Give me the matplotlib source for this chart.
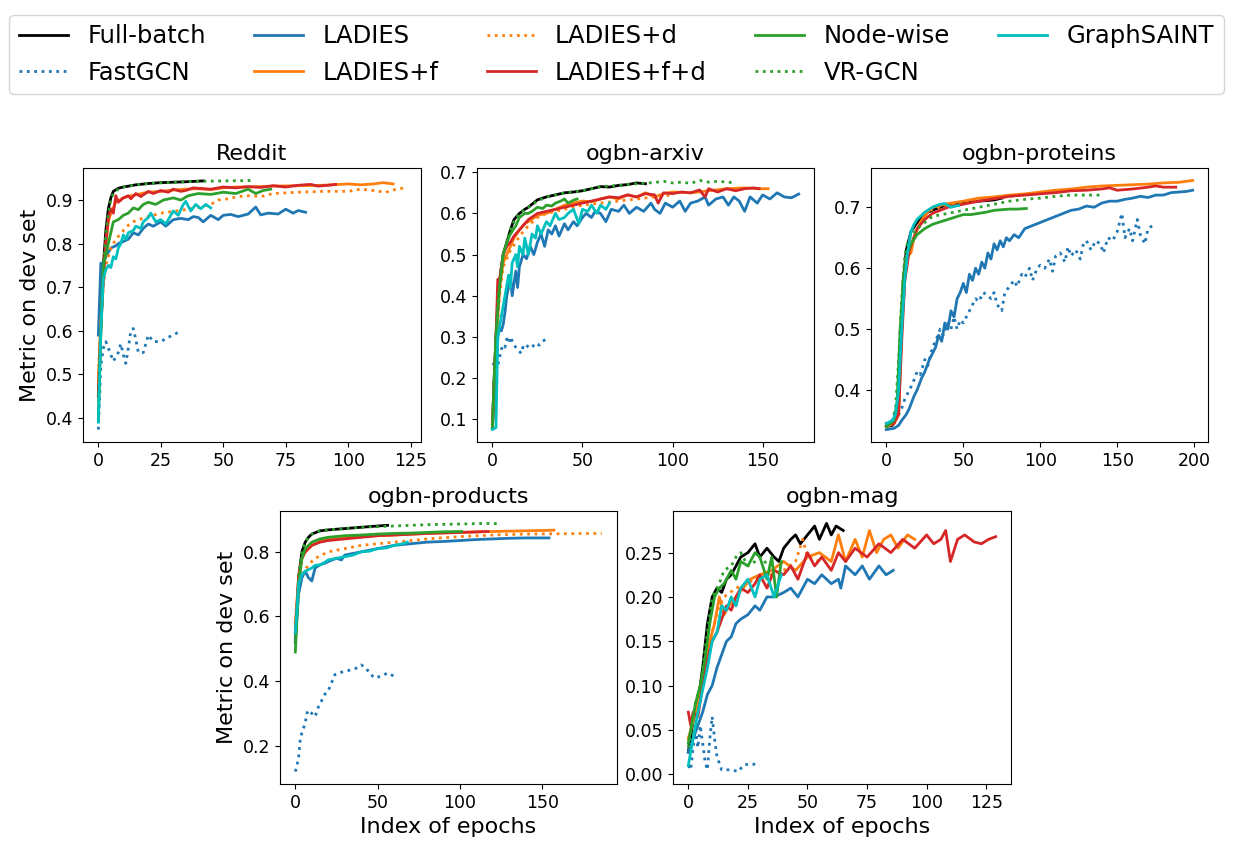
import matplotlib.pyplot as plt

# method names, colours and line styles (legend order)
methods = ['Full-batch', 'FastGCN', 'LADIES', 'LADIES+f', 'LADIES+d',
           'LADIES+f+d', 'Node-wise', 'VR-GCN', 'GraphSAINT']
colors = ['black', 'C0', 'C0', 'C1', 'C1', 'C3', 'C2', 'C2', 'c']
styles = ['-', ':', '-', '-', ':', '-', '-', ':', '-']

# ---------------- Reddit: (epoch, metric) ----------------
reddit_full = [(0, 0.45), (1, 0.62), (2, 0.75), (3, 0.83), (4, 0.88), (5, 0.905), (6, 0.92),
               (8, 0.927), (10, 0.93), (15, 0.935), (20, 0.938), (25, 0.94), (30, 0.941),
               (35, 0.942), (42, 0.944)]
reddit_fastgcn = [(0, 0.373), (1, 0.52), (2, 0.56), (3, 0.575), (4, 0.56), (5, 0.545), (6, 0.53),
                  (7, 0.54), (8, 0.55), (9, 0.57), (10, 0.545), (11, 0.525), (12, 0.56), (13, 0.6),
                  (14, 0.605), (15, 0.58), (16, 0.55), (18, 0.55), (20, 0.59), (22, 0.575),
                  (25, 0.575), (28, 0.585), (30, 0.59), (33, 0.6)]
reddit_ladies = [(0, 0.59), (1, 0.755), (2, 0.755), (3, 0.77), (5, 0.79), (7, 0.795), (8, 0.8),
                 (10, 0.805), (12, 0.81), (14, 0.825), (16, 0.82), (18, 0.835), (20, 0.845),
                 (22, 0.84), (25, 0.85), (27, 0.84), (30, 0.855), (33, 0.858), (36, 0.855),
                 (38, 0.862), (40, 0.86), (42, 0.85), (45, 0.865), (48, 0.855), (50, 0.865),
                 (53, 0.867), (56, 0.862), (60, 0.868), (63, 0.884), (65, 0.866), (68, 0.87),
                 (72, 0.868), (75, 0.879), (78, 0.87), (80, 0.876), (83, 0.872)]
reddit_ladies_f = [(0, 0.48), (1, 0.62), (2, 0.72), (3, 0.8), (4, 0.85), (5, 0.87), (7, 0.895),
                   (10, 0.905), (13, 0.91), (15, 0.912), (18, 0.916), (20, 0.918), (25, 0.92),
                   (30, 0.923), (35, 0.925), (40, 0.926), (45, 0.924), (50, 0.928), (55, 0.93),
                   (60, 0.93), (70, 0.932), (80, 0.933), (90, 0.934), (100, 0.937),
                   (105, 0.935), (110, 0.937), (114, 0.94), (118, 0.937)]
reddit_ladies_d = [(0, 0.5), (1, 0.62), (2, 0.7), (3, 0.75), (5, 0.79), (7, 0.81), (10, 0.83),
                   (13, 0.848), (16, 0.855), (20, 0.862), (25, 0.87), (30, 0.874), (35, 0.878),
                   (40, 0.883), (45, 0.89), (48, 0.9), (52, 0.903), (56, 0.908), (60, 0.91),
                   (65, 0.908), (70, 0.915), (80, 0.918), (90, 0.92), (100, 0.92), (105, 0.925),
                   (110, 0.922), (115, 0.918), (120, 0.926), (123, 0.928)]
reddit_ladies_fd = [(0, 0.45), (1, 0.6), (2, 0.72), (3, 0.8), (4, 0.86), (5, 0.88), (6, 0.87),
                    (7, 0.91), (8, 0.895), (10, 0.905), (12, 0.91), (13, 0.903), (15, 0.915),
                    (17, 0.908), (18, 0.912), (20, 0.92), (22, 0.915), (25, 0.922),
                    (28, 0.918), (30, 0.925), (33, 0.92), (35, 0.922), (38, 0.928),
                    (40, 0.927), (45, 0.925), (50, 0.93), (55, 0.928), (60, 0.931),
                    (65, 0.929), (70, 0.933), (75, 0.93), (80, 0.934), (85, 0.936),
                    (88, 0.932), (92, 0.934), (95, 0.936)]
reddit_nodewise = [(0, 0.395), (1, 0.6), (2, 0.75), (4, 0.8), (6, 0.85), (8, 0.855), (10, 0.865),
                   (12, 0.87), (14, 0.882), (16, 0.878), (18, 0.89), (20, 0.895), (23, 0.89),
                   (26, 0.9), (30, 0.905), (33, 0.9), (36, 0.91), (40, 0.915), (45, 0.913),
                   (50, 0.918), (55, 0.915), (60, 0.925), (63, 0.915), (66, 0.922), (69, 0.925)]
reddit_vrgcn = [(0, 0.42), (1, 0.6), (2, 0.74), (3, 0.82), (4, 0.87), (5, 0.9), (6, 0.915),
                (8, 0.925), (10, 0.93), (15, 0.935), (20, 0.938), (30, 0.941), (40, 0.943),
                (50, 0.944), (62, 0.945)]
reddit_saint = [(0, 0.39), (1, 0.6), (2, 0.72), (3, 0.74), (4, 0.75), (5, 0.745), (6, 0.77),
                (7, 0.765), (8, 0.79), (9, 0.8), (10, 0.82), (11, 0.81), (12, 0.825), (14, 0.83),
                (15, 0.84), (17, 0.835), (18, 0.85), (20, 0.86), (21, 0.87), (23, 0.85),
                (25, 0.855), (27, 0.845), (30, 0.875), (32, 0.865), (34, 0.89), (35, 0.897),
                (37, 0.875), (39, 0.89), (41, 0.88), (43, 0.89), (45, 0.882)]

# ---------------- ogbn-arxiv ----------------
arxiv_full = [(0, 0.08), (1, 0.2), (2, 0.3), (3, 0.38), (4, 0.43), (5, 0.47), (6, 0.5),
              (8, 0.53), (10, 0.56), (12, 0.585), (15, 0.6), (18, 0.61), (20, 0.615),
              (25, 0.633), (30, 0.64), (35, 0.645), (40, 0.65), (45, 0.652), (50, 0.655),
              (55, 0.66), (60, 0.665), (65, 0.664), (70, 0.668), (75, 0.67), (80, 0.674),
              (85, 0.672)]
arxiv_fastgcn = [(0, 0.232), (1, 0.235), (2, 0.245), (3, 0.23), (4, 0.25), (5, 0.27), (6, 0.28),
                 (7, 0.275), (8, 0.295), (9, 0.285), (10, 0.3), (11, 0.29), (12, 0.28),
                 (14, 0.27), (16, 0.26), (17, 0.275), (18, 0.27), (20, 0.28), (22, 0.275),
                 (24, 0.285), (26, 0.28), (28, 0.29), (30, 0.295)]
arxiv_ladies = [(0, 0.08), (2, 0.2), (3, 0.3), (4, 0.32), (5, 0.315), (6, 0.33), (7, 0.36),
                (8, 0.4), (9, 0.42), (10, 0.45), (11, 0.4), (12, 0.43), (13, 0.46), (14, 0.42),
                (15, 0.47), (17, 0.5), (19, 0.49), (21, 0.52), (23, 0.5), (25, 0.53), (27, 0.55),
                (29, 0.52), (31, 0.56), (33, 0.55), (35, 0.57), (37, 0.545), (40, 0.575),
                (42, 0.56), (45, 0.58), (47, 0.57), (50, 0.59), (52, 0.6), (55, 0.59), (57, 0.605),
                (60, 0.6), (63, 0.58), (66, 0.61), (70, 0.605), (73, 0.62), (76, 0.6), (80, 0.615),
                (84, 0.605), (88, 0.625), (90, 0.61), (93, 0.6), (96, 0.625), (100, 0.615),
                (104, 0.63), (107, 0.605), (110, 0.625), (114, 0.63), (118, 0.64), (120, 0.62),
                (124, 0.635), (128, 0.64), (131, 0.62), (134, 0.64), (137, 0.63), (140, 0.605),
                (143, 0.64), (147, 0.625), (150, 0.645), (154, 0.635), (158, 0.65),
                (162, 0.64), (166, 0.638), (170, 0.647)]
arxiv_ladies_f = [(0, 0.08), (2, 0.28), (4, 0.42), (6, 0.48), (8, 0.5), (10, 0.52), (12, 0.54),
                  (15, 0.56), (18, 0.575), (20, 0.58), (25, 0.595), (30, 0.6), (35, 0.61),
                  (40, 0.62), (45, 0.625), (50, 0.63), (55, 0.628), (60, 0.635), (65, 0.64),
                  (70, 0.635), (75, 0.645), (80, 0.64), (85, 0.65), (90, 0.64), (95, 0.648),
                  (100, 0.652), (110, 0.65), (120, 0.655), (130, 0.66), (140, 0.662),
                  (148, 0.66), (153, 0.66)]
arxiv_ladies_d = [(0, 0.08), (2, 0.27), (4, 0.4), (6, 0.47), (8, 0.49), (10, 0.51), (13, 0.53),
                  (16, 0.55), (20, 0.57), (25, 0.59), (30, 0.6), (35, 0.605), (40, 0.61),
                  (50, 0.62), (60, 0.625), (70, 0.63), (80, 0.635), (90, 0.64), (100, 0.645)]
arxiv_ladies_fd = [(0, 0.08), (2, 0.3), (3, 0.44), (4, 0.44), (6, 0.5), (8, 0.52), (10, 0.53),
                   (12, 0.545), (15, 0.56), (17, 0.57), (20, 0.585), (25, 0.6), (30, 0.605),
                   (35, 0.61), (40, 0.615), (45, 0.62), (50, 0.625), (55, 0.63), (60, 0.635),
                   (65, 0.64), (70, 0.638), (75, 0.645), (80, 0.64), (85, 0.648), (90, 0.645),
                   (92, 0.625), (95, 0.65), (100, 0.648), (105, 0.652), (110, 0.65),
                   (115, 0.657), (118, 0.64), (120, 0.66), (125, 0.652), (130, 0.66),
                   (135, 0.655), (140, 0.66), (145, 0.662), (148, 0.66)]
arxiv_nodewise = [(0, 0.08), (2, 0.3), (4, 0.42), (6, 0.5), (8, 0.53), (10, 0.55), (13, 0.57),
                  (15, 0.59), (18, 0.6), (20, 0.6), (22, 0.605), (25, 0.615), (28, 0.612),
                  (30, 0.62), (33, 0.618), (35, 0.625), (38, 0.63), (40, 0.635), (42, 0.625),
                  (45, 0.632), (47, 0.635)]
arxiv_vrgcn = [(0, 0.08), (1, 0.2), (2, 0.3), (3, 0.38), (4, 0.43), (6, 0.5), (8, 0.53),
               (10, 0.56), (12, 0.58), (15, 0.6), (20, 0.615), (25, 0.63), (30, 0.64),
               (40, 0.65), (50, 0.655), (60, 0.665), (70, 0.668), (80, 0.672), (90, 0.675),
               (95, 0.678), (100, 0.674), (105, 0.676), (110, 0.673), (115, 0.68),
               (120, 0.676), (125, 0.678), (133, 0.675)]
arxiv_saint = [(0, 0.075), (2, 0.08), (3, 0.3), (5, 0.35), (7, 0.4), (9, 0.45), (10, 0.42),
               (11, 0.48), (13, 0.5), (14, 0.47), (15, 0.52), (17, 0.5), (18, 0.54), (20, 0.5),
               (22, 0.55), (24, 0.54), (25, 0.57), (27, 0.55), (30, 0.58), (32, 0.57), (35, 0.6),
               (37, 0.585), (40, 0.59), (42, 0.6), (45, 0.61), (48, 0.575), (50, 0.61),
               (53, 0.605), (55, 0.62), (58, 0.6), (60, 0.62), (63, 0.61), (65, 0.625)]

# ---------------- ogbn-proteins ----------------
proteins_full = [(0, 0.34), (4, 0.342), (7, 0.36), (9, 0.45), (11, 0.58), (13, 0.63),
                 (16, 0.66), (20, 0.675), (25, 0.69), (30, 0.695), (40, 0.705), (50, 0.708),
                 (60, 0.71), (70, 0.712), (75, 0.715)]
proteins_fastgcn = [(0, 0.34), (3, 0.345), (5, 0.36), (7, 0.355), (10, 0.37), (12, 0.385),
                    (15, 0.4), (17, 0.41), (20, 0.43), (22, 0.425), (25, 0.45), (27, 0.44),
                    (30, 0.47), (32, 0.48), (35, 0.5), (37, 0.49), (40, 0.51), (42, 0.5),
                    (44, 0.52), (46, 0.5), (48, 0.515), (50, 0.51), (53, 0.525), (56, 0.54),
                    (58, 0.55), (60, 0.545), (63, 0.56), (66, 0.555), (68, 0.55), (70, 0.56),
                    (72, 0.54), (75, 0.53), (77, 0.56), (80, 0.57), (83, 0.58), (85, 0.57),
                    (88, 0.59), (90, 0.585), (93, 0.6), (95, 0.58), (98, 0.6), (100, 0.605),
                    (103, 0.6), (106, 0.615), (108, 0.595), (110, 0.62), (113, 0.625),
                    (116, 0.61), (118, 0.635), (120, 0.62), (123, 0.63), (126, 0.615),
                    (128, 0.64), (130, 0.645), (133, 0.63), (136, 0.645), (139, 0.64),
                    (141, 0.625), (144, 0.65), (147, 0.645), (150, 0.66), (153, 0.69),
                    (155, 0.65), (158, 0.665), (160, 0.645), (163, 0.68), (165, 0.655),
                    (168, 0.64), (170, 0.665), (173, 0.67)]
proteins_ladies = [(0, 0.335), (5, 0.337), (8, 0.342), (10, 0.35), (13, 0.36), (15, 0.37),
                   (18, 0.39), (20, 0.4), (23, 0.42), (25, 0.43), (28, 0.45), (30, 0.46),
                   (32, 0.47), (34, 0.49), (36, 0.48), (38, 0.51), (40, 0.5), (42, 0.53),
                   (44, 0.52), (46, 0.55), (48, 0.56), (50, 0.575), (52, 0.56), (54, 0.59),
                   (56, 0.58), (58, 0.6), (60, 0.59), (62, 0.61), (64, 0.6), (66, 0.625),
                   (68, 0.615), (70, 0.64), (72, 0.63), (74, 0.645), (76, 0.635), (78, 0.65),
                   (80, 0.645), (83, 0.655), (86, 0.65), (90, 0.665), (95, 0.67), (100, 0.675),
                   (105, 0.68), (110, 0.685), (115, 0.69), (120, 0.695), (125, 0.697),
                   (130, 0.702), (135, 0.7), (140, 0.707), (145, 0.71), (150, 0.71),
                   (155, 0.713), (160, 0.715), (165, 0.718), (170, 0.716), (175, 0.72),
                   (180, 0.72), (185, 0.724), (190, 0.725), (195, 0.726), (199, 0.728)]
proteins_ladies_f = [(0, 0.34), (5, 0.345), (8, 0.36), (10, 0.5), (12, 0.58), (14, 0.62),
                     (16, 0.625), (18, 0.65), (22, 0.675), (26, 0.69), (30, 0.7), (40, 0.706),
                     (50, 0.71), (60, 0.715), (70, 0.717), (80, 0.72), (90, 0.722), (100, 0.725),
                     (110, 0.728), (120, 0.73), (130, 0.733), (140, 0.735), (150, 0.736),
                     (160, 0.737), (170, 0.738), (180, 0.74), (190, 0.741), (199, 0.744)]
proteins_ladies_d = [(0, 0.34), (5, 0.345), (8, 0.37), (10, 0.5), (12, 0.58), (14, 0.62),
                     (18, 0.65), (22, 0.672), (26, 0.688), (30, 0.697), (40, 0.704),
                     (50, 0.708), (60, 0.712), (70, 0.715), (80, 0.718), (90, 0.72)]
proteins_ladies_fd = [(0, 0.345), (5, 0.345), (8, 0.36), (10, 0.48), (12, 0.58), (15, 0.63),
                      (20, 0.665), (25, 0.68), (30, 0.69), (40, 0.7), (50, 0.705), (60, 0.71),
                      (70, 0.714), (80, 0.718), (90, 0.72), (100, 0.722), (110, 0.724),
                      (120, 0.727), (130, 0.728), (140, 0.73), (145, 0.732), (150, 0.728),
                      (160, 0.73), (170, 0.733), (175, 0.735), (180, 0.733), (188, 0.733)]
proteins_nodewise = [(0, 0.34), (5, 0.35), (7, 0.38), (9, 0.5), (11, 0.58), (13, 0.62),
                     (16, 0.64), (20, 0.655), (25, 0.665), (30, 0.672), (35, 0.676),
                     (40, 0.68), (45, 0.684), (50, 0.688), (55, 0.688), (60, 0.69), (65, 0.692),
                     (70, 0.695), (75, 0.696), (80, 0.697), (85, 0.697), (91, 0.698)]
proteins_vrgcn = [(0, 0.34), (4, 0.35), (6, 0.37), (8, 0.45), (10, 0.55), (12, 0.62),
                  (14, 0.645), (17, 0.655), (20, 0.665), (25, 0.675), (30, 0.685), (40, 0.69),
                  (50, 0.695), (60, 0.7), (70, 0.705), (80, 0.71), (90, 0.713), (100, 0.715),
                  (110, 0.718), (120, 0.72), (130, 0.72), (140, 0.72)]
proteins_saint = [(0, 0.345), (4, 0.35), (6, 0.36), (8, 0.4), (10, 0.5), (12, 0.58), (14, 0.63),
                  (16, 0.66), (18, 0.672), (20, 0.68), (25, 0.692), (30, 0.7), (35, 0.705),
                  (38, 0.706), (42, 0.7), (45, 0.702), (47, 0.703)]

# ---------------- ogbn-products ----------------
products_full = [(0, 0.52), (2, 0.72), (4, 0.8), (6, 0.83), (8, 0.845), (10, 0.855),
                 (15, 0.865), (20, 0.868), (30, 0.872), (40, 0.876), (50, 0.88), (56, 0.882)]
products_fastgcn = [(0, 0.12), (1, 0.14), (2, 0.165), (3, 0.22), (4, 0.24), (5, 0.255),
                    (6, 0.27), (7, 0.3), (8, 0.31), (10, 0.3), (12, 0.29), (14, 0.32),
                    (16, 0.34), (18, 0.36), (20, 0.37), (22, 0.395), (24, 0.42), (26, 0.425),
                    (30, 0.43), (34, 0.435), (37, 0.44), (40, 0.45), (43, 0.44), (45, 0.425),
                    (48, 0.41), (52, 0.415), (56, 0.425), (60, 0.415)]
products_ladies = [(0, 0.53), (2, 0.67), (4, 0.72), (6, 0.74), (8, 0.72), (10, 0.71),
                   (12, 0.75), (15, 0.76), (18, 0.765), (20, 0.77), (25, 0.78), (28, 0.775),
                   (30, 0.79), (35, 0.795), (40, 0.8), (45, 0.805), (50, 0.81), (55, 0.815),
                   (60, 0.82), (70, 0.825), (80, 0.83), (90, 0.832), (100, 0.835),
                   (110, 0.838), (120, 0.84), (130, 0.842), (140, 0.843), (154, 0.843)]
products_ladies_f = [(0, 0.58), (2, 0.72), (4, 0.78), (6, 0.8), (10, 0.82), (15, 0.832),
                     (20, 0.838), (30, 0.843), (40, 0.847), (50, 0.85), (60, 0.852),
                     (80, 0.857), (100, 0.86), (120, 0.863), (140, 0.865), (157, 0.867)]
products_ladies_d = [(0, 0.55), (2, 0.7), (4, 0.73), (8, 0.76), (12, 0.78), (16, 0.79),
                     (20, 0.8), (30, 0.81), (40, 0.82), (50, 0.825), (60, 0.83), (80, 0.84),
                     (100, 0.847), (120, 0.852), (140, 0.855), (160, 0.856), (186, 0.857)]
products_ladies_fd = [(0, 0.55), (2, 0.72), (4, 0.78), (6, 0.8), (10, 0.82), (15, 0.83),
                      (20, 0.835), (30, 0.84), (40, 0.845), (50, 0.85), (60, 0.852),
                      (80, 0.857), (100, 0.86), (117, 0.863)]
products_nodewise = [(0, 0.49), (2, 0.7), (4, 0.78), (6, 0.81), (8, 0.82), (10, 0.83),
                     (15, 0.84), (20, 0.845), (30, 0.85), (40, 0.852), (50, 0.855),
                     (60, 0.857), (70, 0.858), (80, 0.86), (90, 0.862), (101, 0.863)]
products_vrgcn = [(0, 0.52), (2, 0.72), (4, 0.8), (6, 0.83), (8, 0.845), (10, 0.855),
                  (15, 0.865), (20, 0.868), (30, 0.872), (40, 0.876), (50, 0.878),
                  (60, 0.88), (80, 0.884), (100, 0.886), (115, 0.888), (125, 0.887)]
products_saint = [(0, 0.55), (2, 0.7), (4, 0.73), (6, 0.74), (8, 0.745), (10, 0.75),
                  (12, 0.758), (15, 0.76), (18, 0.768), (20, 0.775), (25, 0.78), (30, 0.785),
                  (35, 0.79), (40, 0.8), (45, 0.802), (50, 0.81), (55, 0.812), (60, 0.82),
                  (65, 0.825), (68, 0.83)]

# ---------------- ogbn-mag ----------------
mag_full = [(0, 0.025), (2, 0.06), (4, 0.08), (6, 0.12), (8, 0.17), (10, 0.2), (12, 0.21),
            (14, 0.205), (16, 0.22), (18, 0.225), (20, 0.235), (22, 0.245), (25, 0.25),
            (28, 0.26), (30, 0.245), (33, 0.255), (36, 0.245), (38, 0.24), (40, 0.255),
            (43, 0.265), (45, 0.27), (47, 0.26), (50, 0.27), (53, 0.28), (55, 0.265),
            (58, 0.283), (60, 0.27), (62, 0.28), (65, 0.275)]
mag_fastgcn = [(0, 0.01), (1, 0.005), (2, 0.03), (3, 0.05), (4, 0.03), (5, 0.055), (6, 0.035),
               (7, 0.015), (8, 0.005), (9, 0.04), (10, 0.065), (11, 0.04), (12, 0.02),
               (14, 0.005), (18, 0.005), (21, 0.003), (23, 0.01), (26, 0.012), (30, 0.01)]
mag_ladies = [(0, 0.025), (2, 0.04), (4, 0.055), (6, 0.07), (8, 0.09), (10, 0.1), (12, 0.12),
              (14, 0.135), (16, 0.15), (18, 0.155), (20, 0.17), (22, 0.175), (25, 0.18),
              (28, 0.19), (30, 0.185), (33, 0.2), (36, 0.2), (40, 0.205), (43, 0.21),
              (46, 0.2), (50, 0.22), (53, 0.215), (56, 0.225), (60, 0.215), (63, 0.22),
              (64, 0.21), (66, 0.235), (70, 0.225), (73, 0.235), (76, 0.22), (80, 0.235),
              (83, 0.225), (86, 0.23)]
mag_ladies_f = [(0, 0.04), (3, 0.07), (5, 0.1), (7, 0.12), (9, 0.15), (11, 0.17), (13, 0.2),
                (15, 0.18), (17, 0.19), (20, 0.2), (23, 0.21), (26, 0.22), (30, 0.225),
                (35, 0.23), (40, 0.24), (45, 0.23), (50, 0.245), (55, 0.25), (60, 0.24),
                (63, 0.27), (66, 0.24), (70, 0.265), (73, 0.245), (76, 0.275), (79, 0.25),
                (82, 0.265), (85, 0.27), (88, 0.255), (92, 0.27), (95, 0.265)]
mag_ladies_d = [(0, 0.04), (3, 0.07), (5, 0.09), (7, 0.12), (10, 0.16), (13, 0.19), (15, 0.2),
                (20, 0.21), (25, 0.215), (30, 0.225), (35, 0.225), (40, 0.23), (45, 0.24),
                (48, 0.265), (50, 0.245), (55, 0.24)]
mag_ladies_fd = [(0, 0.07), (1, 0.055), (2, 0.07), (4, 0.065), (6, 0.1), (8, 0.13), (10, 0.15),
                 (12, 0.16), (14, 0.175), (16, 0.19), (18, 0.185), (20, 0.2), (22, 0.21),
                 (25, 0.205), (28, 0.215), (30, 0.225), (33, 0.21), (36, 0.23), (40, 0.225),
                 (43, 0.235), (46, 0.22), (50, 0.25), (53, 0.235), (56, 0.245), (60, 0.23),
                 (63, 0.25), (66, 0.24), (70, 0.255), (75, 0.245), (80, 0.26), (85, 0.25),
                 (90, 0.265), (95, 0.255), (100, 0.27), (103, 0.26), (106, 0.265),
                 (108, 0.275), (110, 0.24), (113, 0.265), (116, 0.27), (120, 0.262),
                 (123, 0.26), (126, 0.265), (129, 0.268)]
mag_nodewise = [(0, 0.035), (3, 0.08), (5, 0.1), (7, 0.13), (9, 0.17), (11, 0.2), (13, 0.21),
                (15, 0.215), (18, 0.23), (20, 0.22), (22, 0.24), (25, 0.235), (28, 0.25),
                (30, 0.245), (33, 0.22), (35, 0.245), (37, 0.2), (39, 0.24)]
mag_vrgcn = [(0, 0.03), (3, 0.08), (5, 0.1), (8, 0.16), (10, 0.2), (13, 0.215), (15, 0.23),
             (18, 0.235), (20, 0.245), (22, 0.25), (25, 0.235), (28, 0.24), (30, 0.245),
             (34, 0.235)]
mag_saint = [(0, 0.01), (2, 0.04), (4, 0.07), (6, 0.095), (8, 0.12), (10, 0.15), (12, 0.16),
             (14, 0.19), (16, 0.185), (18, 0.2), (20, 0.19), (22, 0.21), (25, 0.22), (28, 0.2),
             (30, 0.22), (33, 0.225), (36, 0.2), (39, 0.225)]

datasets = [
    ('Reddit', [reddit_full, reddit_fastgcn, reddit_ladies, reddit_ladies_f, reddit_ladies_d,
                reddit_ladies_fd, reddit_nodewise, reddit_vrgcn, reddit_saint]),
    ('ogbn-arxiv', [arxiv_full, arxiv_fastgcn, arxiv_ladies, arxiv_ladies_f, arxiv_ladies_d,
                    arxiv_ladies_fd, arxiv_nodewise, arxiv_vrgcn, arxiv_saint]),
    ('ogbn-proteins', [proteins_full, proteins_fastgcn, proteins_ladies, proteins_ladies_f,
                       proteins_ladies_d, proteins_ladies_fd, proteins_nodewise,
                       proteins_vrgcn, proteins_saint]),
    ('ogbn-products', [products_full, products_fastgcn, products_ladies, products_ladies_f,
                       products_ladies_d, products_ladies_fd, products_nodewise,
                       products_vrgcn, products_saint]),
    ('ogbn-mag', [mag_full, mag_fastgcn, mag_ladies, mag_ladies_f, mag_ladies_d,
                  mag_ladies_fd, mag_nodewise, mag_vrgcn, mag_saint]),
]

# axes rectangles in figure fractions (left, bottom, width, height)
rects = [(0.0673, 0.4775, 0.2741, 0.3239),
         (0.3869, 0.4775, 0.2733, 0.3239),
         (0.7064, 0.4775, 0.2733, 0.3239),
         (0.2271, 0.0733, 0.2733, 0.3227),
         (0.5458, 0.0733, 0.2742, 0.3227)]

fig = plt.figure(figsize=(12.33, 8.46), dpi=100)
handles = []
for i, ((title, series), rect) in enumerate(zip(datasets, rects)):
    ax = fig.add_axes(rect)
    for j, pts in enumerate(series):
        xs = [p[0] for p in pts]
        ys = [p[1] for p in pts]
        line, = ax.plot(xs, ys, color=colors[j], linestyle=styles[j], lw=2,
                        label=methods[j])
        if i == 0:
            handles.append(line)
    ax.set_title(title, fontsize=16)
    ax.tick_params(labelsize=12.5)
    if i in (0, 3):
        ax.set_ylabel('Metric on dev set', fontsize=16)
    if i >= 3:
        ax.set_xlabel('Index of epochs', fontsize=16)

fig.legend(handles=handles, loc='upper center', bbox_to_anchor=(0.5, 0.997),
           ncol=5, fontsize=17.5)
fig.savefig('out.png', dpi=100)
